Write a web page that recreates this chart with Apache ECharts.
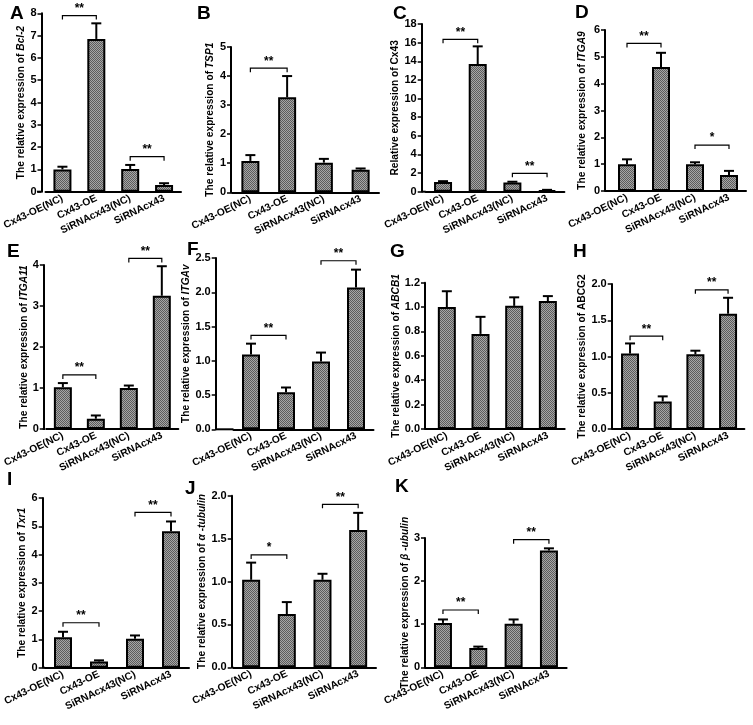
<!DOCTYPE html>
<html><head><meta charset="utf-8">
<script src="https://cdn.jsdelivr.net/npm/echarts/dist/echarts.min.js"></script>
<style>html,body{margin:0;padding:0;background:#fff}#c{width:753px;height:725px}</style>
</head><body><div id="c"></div>
<script>
// ---------- data ----------
const categories = ['Cx43-OE(NC)', 'Cx43-OE', 'SiRNAcx43(NC)', 'SiRNAcx43'];

const bcl2Mean  = [1.00, 6.85, 1.02, 0.30];
const bcl2Sem   = [0.12, 0.70, 0.18, 0.08];
const bcl2Sig   = [[0, 1, 7.9, '**'], [2, 3, 1.57, '**']];

const tsp1Mean  = [1.08, 3.27, 1.02, 0.78];
const tsp1Sem   = [0.20, 0.73, 0.13, 0.04];
const tsp1Sig   = [[0, 1, 4.27, '**']];

const cx43Mean  = [1.05, 13.7, 1.00, 0.15];
const cx43Sem   = [0.08, 1.90, 0.07, 0.05];
const cx43Sig   = [[0, 1, 16.35, '**'], [2, 3, 1.97, '**']];

const itga9Mean = [1.00, 4.62, 1.00, 0.60];
const itga9Sem  = [0.18, 0.53, 0.07, 0.15];
const itga9Sig  = [[0, 1, 5.5, '**'], [2, 3, 1.71, '*']];

const itga11Mean = [1.02, 0.25, 1.00, 3.25];
const itga11Sem  = [0.10, 0.08, 0.06, 0.72];
const itga11Sig  = [[0, 1, 1.32, '**'], [2, 3, 4.16, '**']];

const itgavMean = [1.09, 0.54, 0.99, 2.07];
const itgavSem  = [0.16, 0.07, 0.13, 0.26];
const itgavSig  = [[0, 1, 1.37, '**'], [2, 3, 2.46, '**']];

const abcb1Mean = [1.00, 0.78, 1.01, 1.05];
const abcb1Sem  = [0.13, 0.14, 0.07, 0.04];
const abcb1Sig  = [];

const abcg2Mean = [1.04, 0.38, 1.03, 1.59];
const abcg2Sem  = [0.14, 0.07, 0.05, 0.22];
const abcg2Sig  = [[0, 1, 1.28, '**'], [2, 3, 1.92, '**']];

const txr1Mean  = [1.08, 0.22, 1.02, 4.82];
const txr1Sem   = [0.19, 0.04, 0.12, 0.35];
const txr1Sig   = [[0, 1, 1.59, '**'], [2, 3, 5.49, '**']];

const atubMean  = [1.02, 0.62, 1.02, 1.60];
const atubSem   = [0.20, 0.14, 0.07, 0.20];
const atubSig   = [[0, 1, 1.31, '*'], [2, 3, 1.9, '**']];

const btubMean  = [1.03, 0.45, 1.01, 2.71];
const btubSem   = [0.08, 0.03, 0.10, 0.05];
const btubSig   = [[0, 1, 1.33, '**'], [2, 3, 2.96, '**']];

// y axis ticks: [max, interval, decimals]
const ticksA = [8, 1, 0], ticksB = [5, 1, 0], ticksC = [18, 2, 0], ticksD = [6, 1, 0];
const ticksE = [4, 1, 0], ticksF = [2.5, 0.5, 1], ticksG = [1.2, 0.2, 1], ticksH = [2, 0.5, 1];
const ticksI = [6, 1, 0], ticksJ = [2, 0.5, 1], ticksK = [3, 1, 0];

// ---------- layout (positions only) ----------
const layouts = {
  A: {ax: 37,    left: 41,    w: 140,   top: 13.3,  zero: 191.7, gap: 13, lx: 10,  ly: 4},
  B: {ax: 231,   left: 232,   w: 147,   top: 47,    zero: 192.3, gap: 16, lx: 197, ly: 4},
  C: {ax: 421.7, left: 425.7, w: 138.7, top: 24,    zero: 191.7, gap: 18, lx: 393, ly: 4},
  D: {ax: 605,   left: 610,   w: 136,   top: 30,    zero: 191,   gap: 18, lx: 575, ly: 3},
  E: {ax: 42.7,  left: 45.3,  w: 133,   top: 265,   zero: 429,   gap: 9,  lx: 7,   ly: 242},
  F: {ax: 215.7, left: 233.5, w: 140,   top: 258,   zero: 429.3, gap: 7,  lx: 187, ly: 240},
  G: {ax: 425,   left: 430,   w: 134.7, top: 282.7, zero: 429,   gap: 18, lx: 390, ly: 242},
  H: {ax: 611.7, left: 613.7, w: 130.7, top: 284,   zero: 429,   gap: 20, lx: 573, ly: 242},
  I: {ax: 42.7,  left: 45,    w: 144,   top: 498,   zero: 667.7, gap: 13, lx: 7,   ly: 470},
  J: {ax: 231.7, left: 233.3, w: 142.7, top: 495.7, zero: 667.3, gap: 20, lx: 185, ly: 479},
  K: {ax: 425,   left: 425.3, w: 141.3, top: 538,   zero: 667.3, gap: 8,  lx: 395, ly: 477}
};

const panels = [
  {letter: 'A', prefix: 'The relative expression of ', gene: 'Bcl-2', it: true, mean: bcl2Mean, sem: bcl2Sem, sig: bcl2Sig, ticks: ticksA},
  {letter: 'B', prefix: 'The relative expression of ', gene: 'TSP1', it: true, mean: tsp1Mean, sem: tsp1Sem, sig: tsp1Sig, ticks: ticksB},
  {letter: 'C', prefix: 'Relative expression of ', gene: 'Cx43', it: false, mean: cx43Mean, sem: cx43Sem, sig: cx43Sig, ticks: ticksC},
  {letter: 'D', prefix: 'The relative expression of ', gene: 'ITGA9', it: true, mean: itga9Mean, sem: itga9Sem, sig: itga9Sig, ticks: ticksD},
  {letter: 'E', prefix: 'The relative expression of ', gene: 'ITGA11', it: true, mean: itga11Mean, sem: itga11Sem, sig: itga11Sig, ticks: ticksE},
  {letter: 'F', prefix: 'The relative expression of ', gene: 'ITGAv', it: true, mean: itgavMean, sem: itgavSem, sig: itgavSig, ticks: ticksF},
  {letter: 'G', prefix: 'The relative expression of ', gene: 'ABCB1', it: true, mean: abcb1Mean, sem: abcb1Sem, sig: abcb1Sig, ticks: ticksG},
  {letter: 'H', prefix: 'The relative expression of ', gene: 'ABCG2', it: false, mean: abcg2Mean, sem: abcg2Sem, sig: abcg2Sig, ticks: ticksH},
  {letter: 'I', prefix: 'The relative expression of ', gene: 'Txr1', it: true, mean: txr1Mean, sem: txr1Sem, sig: txr1Sig, ticks: ticksI},
  {letter: 'J', prefix: 'The relative expression of ', gene: 'α -tubulin', it: true, mean: atubMean, sem: atubSem, sig: atubSig, ticks: ticksJ},
  {letter: 'K', prefix: 'The relative expression of ', gene: 'β -ubulin', it: true, mean: btubMean, sem: btubSem, sig: btubSig, ticks: ticksK}
];

// ---------- styles ----------
const FONT = 'Liberation Sans, Arial, sans-serif';
const NAME_SIZE = 10.2;
const pc = document.createElement('canvas');
pc.width = 2; pc.height = 2;
const pctx = pc.getContext('2d');
pctx.fillStyle = '#a6a6a6'; pctx.fillRect(0, 0, 2, 2);
pctx.fillStyle = '#5c5c5c'; pctx.fillRect(0, 0, 1, 1); pctx.fillRect(1, 1, 1, 1);
const barFill = {image: pc, repeat: 'repeat'};

const grid = [], xAxis = [], yAxis = [], series = [], title = [], graphic = [];

panels.forEach((p, k) => {
  const L = layouts[p.letter];
  const [mx, iv, dec] = p.ticks;
  grid.push({left: L.left, top: L.top, width: L.w, height: L.zero - L.top, containLabel: false});
  title.push({text: p.letter, left: L.lx, top: L.ly, padding: 0,
    textStyle: {fontSize: 19, fontWeight: 'bold', color: '#000', fontFamily: FONT}});
  xAxis.push({
    type: 'category', gridIndex: k, data: categories,
    axisLine: {lineStyle: {color: '#000', width: 2}},
    axisTick: {alignWithLabel: true, length: 4, lineStyle: {color: '#000', width: 1.5}},
    axisLabel: {rotate: 26, interval: 0, fontSize: 10.3, fontWeight: 'bold', color: '#000', fontFamily: FONT, margin: 6}
  });
  const rich = {
    n: {fontSize: NAME_SIZE, fontWeight: 'bold', color: '#000', fontFamily: FONT},
    i: {fontSize: NAME_SIZE, fontWeight: 'bold', fontStyle: 'italic', color: '#000', fontFamily: FONT}
  };
  yAxis.push({
    type: 'value', gridIndex: k, min: 0, max: mx, interval: iv,
    offset: L.left - L.ax,
    name: p.it ? '{n|' + p.prefix + '}{i|' + p.gene + '}' : '{n|' + p.prefix + p.gene + '}',
    nameLocation: 'middle', nameRotate: 90, nameGap: L.gap,
    nameTextStyle: {rich: rich, fontSize: NAME_SIZE, fontWeight: 'bold', color: '#000', fontFamily: FONT},
    axisLine: {show: true, lineStyle: {color: '#000', width: 2}},
    axisTick: {show: true, length: 4, lineStyle: {color: '#000', width: 1.5}},
    splitLine: {show: false},
    axisLabel: {fontSize: 11, fontWeight: 'bold', color: '#000', fontFamily: FONT, margin: 5,
      formatter: v => Number(v).toFixed(dec)}
  });
  series.push({
    type: 'bar', xAxisIndex: k, yAxisIndex: k, data: p.mean, barWidth: 18,
    itemStyle: {color: barFill, borderColor: '#000', borderWidth: 2}, z: 2
  });
  series.push({
    type: 'custom', xAxisIndex: k, yAxisIndex: k, clip: false, z: 3,
    data: p.mean.map((m, i) => [i, m, m + p.sem[i]]),
    encode: {x: 0, y: [1, 2]},
    renderItem: (params, api) => {
      const b = api.coord([api.value(0), api.value(1)]);
      const t = api.coord([api.value(0), api.value(2)]);
      return {type: 'group', children: [
        {type: 'line', shape: {x1: b[0], y1: b[1], x2: t[0], y2: t[1]}, style: {stroke: '#000', lineWidth: 2}},
        {type: 'line', shape: {x1: t[0] - 5, y1: t[1], x2: t[0] + 5, y2: t[1]}, style: {stroke: '#000', lineWidth: 2}}
      ]};
    }
  });
  if (p.sig.length) {
    series.push({
      type: 'custom', xAxisIndex: k, yAxisIndex: k, clip: false, z: 3,
      data: p.sig.map(s => [s[0], s[1], s[2]]),
      encode: {x: [0, 1], y: 2},
      renderItem: (params, api) => {
        const a = api.coord([api.value(0), api.value(2)]);
        const c = api.coord([api.value(1), api.value(2)]);
        const txt = p.sig[params.dataIndex][3];
        return {type: 'group', children: [
          {type: 'polyline', shape: {points: [[a[0], a[1] + 4], [a[0], a[1]], [c[0], c[1]], [c[0], c[1] + 4]]},
            style: {stroke: '#000', lineWidth: 1.2, fill: null}},
          {type: 'text', x: (a[0] + c[0]) / 2, y: a[1] - 1,
            style: {text: txt, fontSize: 12, fontWeight: 'bold', fontFamily: FONT, fill: '#000',
              textAlign: 'center', textVerticalAlign: 'bottom'}}
        ]};
      }
    });
  }
  if (L.left - L.ax > 0.5) {
    graphic.push({type: 'line', shape: {x1: L.ax, y1: L.zero, x2: L.left, y2: L.zero},
      style: {stroke: '#000', lineWidth: 2}});
  }
});

const chart = echarts.init(document.getElementById('c'), null, {renderer: 'canvas'});
chart.setOption({backgroundColor: '#fff', animation: false, title, grid, xAxis, yAxis, series, graphic});
</script>
</body></html>
